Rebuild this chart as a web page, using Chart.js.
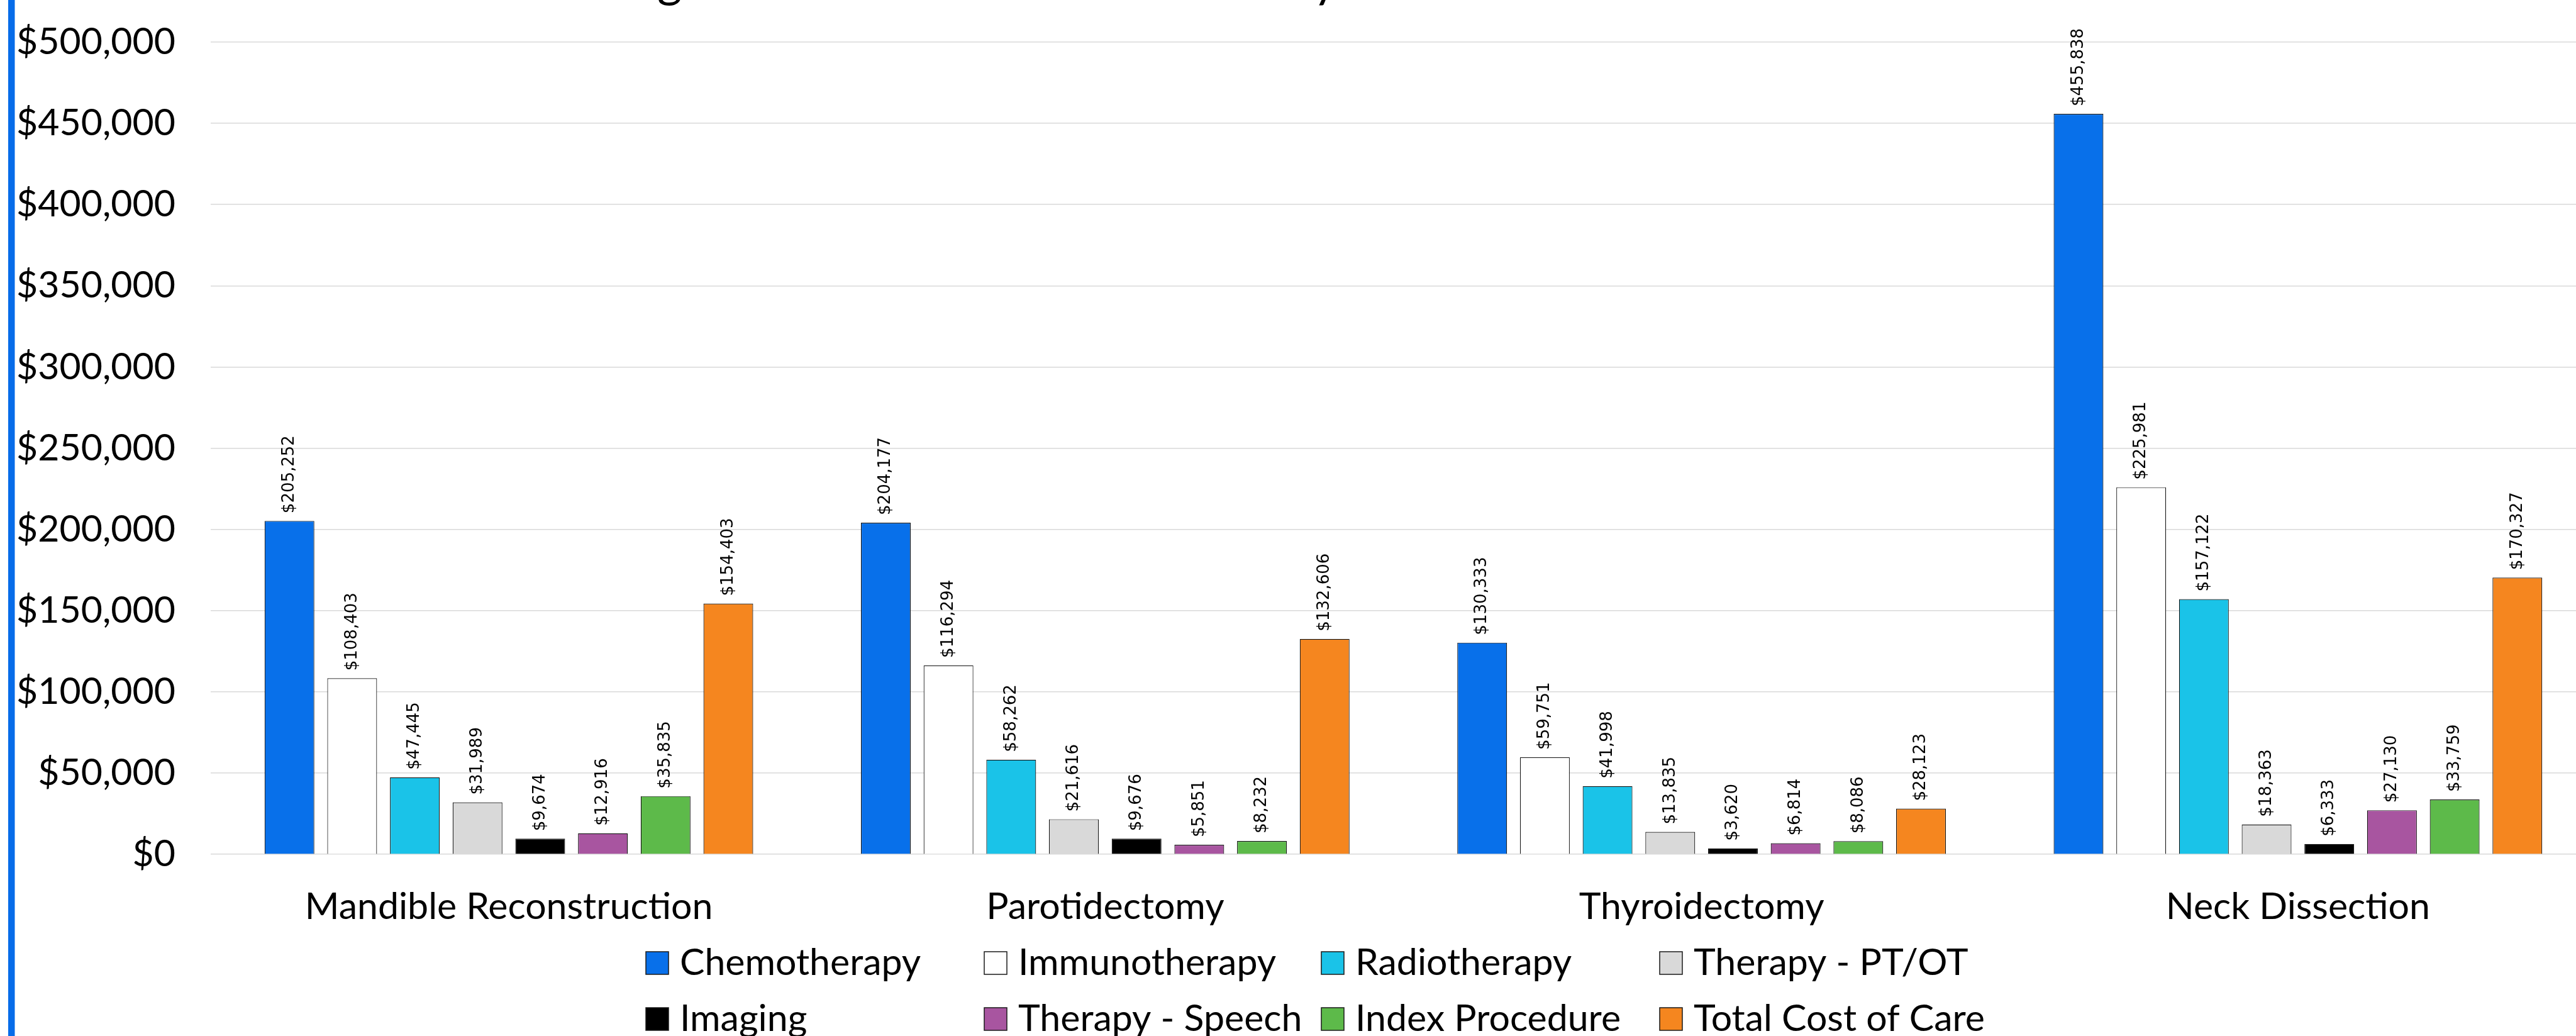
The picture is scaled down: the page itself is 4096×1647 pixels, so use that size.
<!DOCTYPE html>
<html>
<head>
<meta charset="utf-8">
<title>Costs by procedure</title>
<script src="https://cdn.jsdelivr.net/npm/chart.js@4.4.1/dist/chart.umd.min.js"></script>
<style>
  html, body { margin: 0; padding: 0; background: #fff; overflow: hidden; }
  #wrap { position: absolute; left: 0; top: 0; width: 4130px; height: 1647px; }
</style>
</head>
<body>
<div id="wrap"><canvas id="costChart" width="4130" height="1647"></canvas></div>
<script>
/* global Chart */
{
  'use strict';

  // DANE
  const procedures = ['Mandible Reconstruction', 'Parotidectomy', 'Thyroidectomy', 'Neck Dissection'];
  const seriesNames = ['Chemotherapy', 'Immunotherapy', 'Radiotherapy', 'Therapy - PT/OT',
    'Imaging', 'Therapy - Speech', 'Index Procedure', 'Total Cost of Care'];

  const chemotherapy = [205252, 204177, 130333, 455838];
  const immunotherapy = [108403, 116294, 59751, 225981];
  const radiotherapy = [47445, 58262, 41998, 157122];
  const therapyPtOt = [31989, 21616, 13835, 18363];
  const imaging = [9674, 9676, 3620, 6333];
  const therapySpeech = [12916, 5851, 6814, 27130];
  const indexProcedure = [35835, 8232, 8086, 33759];
  const totalCost = [154403, 132606, 28123, 170327];

  const yTicks = [0, 50000, 100000, 150000, 200000, 250000, 300000, 350000, 400000, 450000, 500000];

  const titleText = 'Oncologic Treatment Costs Stratified by Index Resection';

  const colors = ['#0870EA', '#FFFFFF', '#1AC3E8', '#D9D9D9', '#000000', '#A855A0', '#5DBA4A', '#F5861F'];
  const values = [chemotherapy, immunotherapy, radiotherapy, therapyPtOt,
    imaging, therapySpeech, indexProcedure, totalCost];

  const money = function (v) {
    return '$' + Math.round(v).toLocaleString('en-US');
  };

  const uiFont = 'Lato, "Open Sans", sans-serif';

  // niebieski pasek + tytul (przyciety u gory)
  const decorPlugin = {
    id: 'decor',
    beforeDraw(chart) {
      const ctx = chart.ctx;
      ctx.save();
      ctx.fillStyle = '#FFFFFF';
      ctx.fillRect(0, 0, chart.width, chart.height);
      ctx.fillStyle = '#076CE9';
      ctx.fillRect(13, 0, 10.5, chart.height);
      ctx.restore();
    },
    afterDraw(chart) {
      const ctx = chart.ctx;
      ctx.save();
      ctx.font = '76px ' + uiFont;
      ctx.fillStyle = '#000';
      ctx.textAlign = 'left';
      ctx.textBaseline = 'alphabetic';
      const startX = 1065 - ctx.measureText('Oncolo').width - ctx.measureText('g').width / 2;
      ctx.fillText(titleText, startX, -5);
      ctx.restore();
    }
  };

  // etykiety nad slupkami (pionowe)
  const valueLabels = {
    id: 'valueLabels',
    afterDatasetsDraw(chart) {
      const ctx = chart.ctx;
      ctx.save();
      ctx.font = '26px "DejaVu Sans", sans-serif';
      ctx.fillStyle = '#000';
      ctx.textAlign = 'left';
      ctx.textBaseline = 'middle';
      chart.data.datasets.forEach(function (ds, i) {
        const meta = chart.getDatasetMeta(i);
        meta.data.forEach(function (bar, j) {
          ctx.save();
          ctx.translate(bar.x, bar.y - 12);
          ctx.rotate(-Math.PI / 2);
          ctx.fillText(money(ds.data[j]), 0, 0);
          ctx.restore();
        });
      });
      ctx.restore();
    }
  };

  // legenda w 4 kolumnach
  const gridLegend = {
    id: 'gridLegend',
    afterDraw(chart) {
      const ctx = chart.ctx;
      const colX = [1027, 1565, 2101, 2639];
      const rowY = [1531, 1620];
      ctx.save();
      ctx.font = '59px ' + uiFont;
      ctx.textAlign = 'left';
      ctx.textBaseline = 'alphabetic';
      chart.data.datasets.forEach(function (ds, i) {
        const x = colX[i % 4];
        const yc = rowY[Math.floor(i / 4)];
        ctx.fillStyle = ds.backgroundColor;
        ctx.fillRect(x, yc - 18, 36, 36);
        ctx.strokeStyle = '#1a1a1a';
        ctx.lineWidth = 1.5;
        ctx.strokeRect(x, yc - 18, 36, 36);
        ctx.fillStyle = '#000';
        ctx.fillText(ds.label, x + 54, yc + 19);
      });
      ctx.restore();
    }
  };

  const datasets = seriesNames.map(function (name, i) {
    return {
      label: name,
      data: values[i],
      backgroundColor: colors[i],
      borderColor: '#111111',
      borderWidth: 1.2,
      categoryPercentage: 0.841,
      barPercentage: 0.793,
    };
  });

  const ctx = document.getElementById('costChart').getContext('2d');

  const chart = new Chart(ctx, {
    type: 'bar',
    data: {
      labels: procedures,
      datasets: datasets,
    },
    options: {
      responsive: false,
      animation: false,
      devicePixelRatio: 1,
      layout: {
        padding: { top: 67, right: 2, bottom: 122, left: 0 }
      },
      plugins: {
        legend: { display: false },
        title: { display: false },
        tooltip: { enabled: false },
      },
      scales: {
        x: {
          grid: { display: false, drawTicks: false },
          border: { display: false },
          ticks: {
            color: '#000',
            font: { family: uiFont, size: 59 },
            padding: 48,
            maxRotation: 0,
            autoSkip: false,
          },
        },
        y: {
          min: 0,
          max: 500000,
          afterFit(scale) {
            scale.width = 335;
          },
          afterBuildTicks(scale) {
            scale.ticks = yTicks.map(function (v) { return { value: v }; });
          },
          grid: {
            color: '#D9D9D9',
            lineWidth: 1.5,
            drawTicks: true,
            tickLength: 56,
            tickColor: 'rgba(0,0,0,0)',
          },
          border: { display: false },
          ticks: {
            color: '#000',
            font: { family: uiFont, size: 59, lineHeight: 1 },
            padding: 0,
            callback: function (v) { return money(v); },
          },
        },
      },
    },
    plugins: [decorPlugin, valueLabels, gridLegend],
  });

  console.log(chart.chartArea);
}
</script>
</body>
</html>
